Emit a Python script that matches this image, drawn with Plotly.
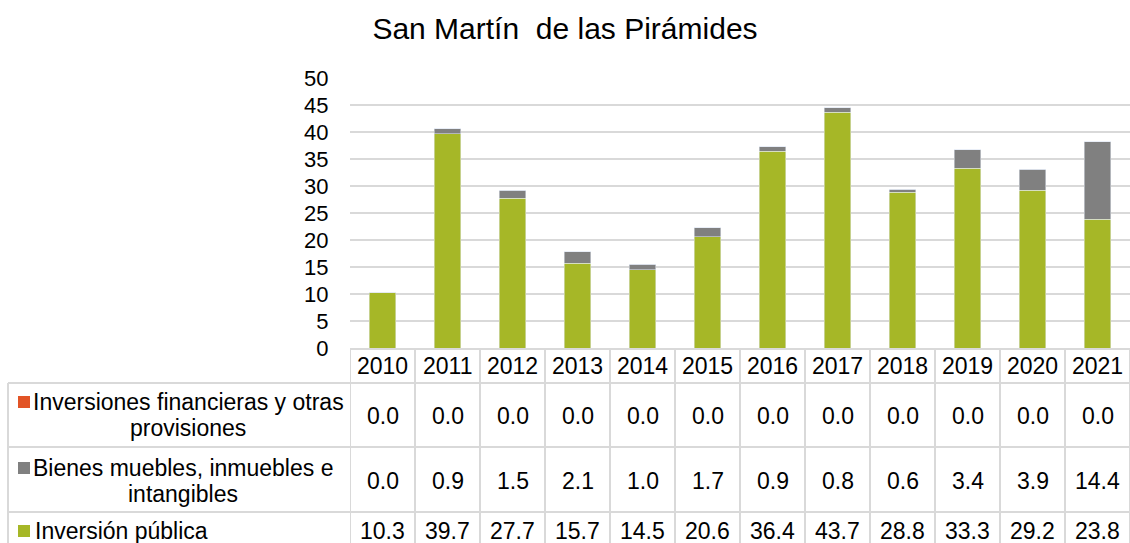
import plotly.graph_objects as go

years = ["2010", "2011", "2012", "2013", "2014", "2015", "2016", "2017", "2018", "2019", "2020", "2021"]
inv_financieras = [0.0, 0.0, 0.0, 0.0, 0.0, 0.0, 0.0, 0.0, 0.0, 0.0, 0.0, 0.0]
bienes_muebles = [0.0, 0.9, 1.5, 2.1, 1.0, 1.7, 0.9, 0.8, 0.6, 3.4, 3.9, 14.4]
inversion_publica = [10.3, 39.7, 27.7, 15.7, 14.5, 20.6, 36.4, 43.7, 28.8, 33.3, 29.2, 23.8]
y_ticks = [0, 5, 10, 15, 20, 25, 30, 35, 40, 45, 50]

GREEN = "#A6B727"
GREY = "#808080"
ORANGE = "#E25426"
LINE = "#D9D9D9"
FONT = "Liberation Sans, Arial, sans-serif"
TFS = 23

W, H = 1130, 543
L, R, T, B = 350, 0, 78, 195
PW = W - L - R
PH = H - T - B


def py(p):
    return (H - B - p) / PH


def px(p):
    return (p - L) / PW


fig = go.Figure()
fig.add_bar(x=years, y=inversion_publica, marker_color=GREEN, name="Inversión pública")
fig.add_bar(x=years, y=bienes_muebles, marker_color=GREY, name="Bienes muebles, inmuebles e intangibles")
fig.add_bar(x=years, y=inv_financieras, marker_color=ORANGE, name="Inversiones financieras y otras provisiones")

shapes = []
ann = []

# table horizontal lines
for yp in [383, 447, 512]:
    shapes.append(dict(type="line", xref="paper", yref="paper", x0=px(8), x1=1.0,
                       y0=py(yp), y1=py(yp), line=dict(color=LINE, width=2)))
# left border of legend column
shapes.append(dict(type="line", xref="paper", yref="paper", x0=px(8), x1=px(8),
                   y0=py(383), y1=py(560), line=dict(color=LINE, width=2)))
# column separators
for k in range(len(years) + 1):
    shapes.append(dict(type="line", xref="x", yref="paper", x0=k - 0.5, x1=k - 0.5,
                       y0=py(348), y1=py(560), line=dict(color=LINE, width=2)))

rows = [(inv_financieras, 416), (bienes_muebles, 481), (inversion_publica, 531)]
for i, yr in enumerate(years):
    ann.append(dict(x=i, xref="x", y=py(366), yref="paper", text=yr, showarrow=False,
                    font=dict(size=TFS, color="#000000", family=FONT), yanchor="middle"))
    for vals, yp in rows:
        ann.append(dict(x=i, xref="x", y=py(yp), yref="paper", text=f"{vals[i]:.1f}",
                        showarrow=False, font=dict(size=TFS, color="#000000", family=FONT),
                        yanchor="middle"))

legend_lines = [
    ("Inversiones financieras y otras", 188, 402, "center"),
    ("provisiones", 188, 428, "center"),
    ("Bienes muebles, inmuebles e", 183, 468, "center"),
    ("intangibles", 183, 494, "center"),
    ("Inversión pública", 33, 531, "left"),
]
for txt, xp, yp, al in legend_lines:
    ann.append(dict(x=px(xp), xref="paper", y=py(yp), yref="paper", text=txt, showarrow=False,
                    xanchor=al, yanchor="middle",
                    font=dict(size=TFS, color="#000000", family=FONT)))

for col, yp in [(ORANGE, 402), (GREY, 468), (GREEN, 531)]:
    shapes.append(dict(type="rect", xref="paper", yref="paper", x0=px(18), x1=px(30),
                       y0=py(yp + 6), y1=py(yp - 6), line=dict(width=0), fillcolor=col))

fig.update_layout(
    width=W, height=H,
    margin=dict(l=L, r=R, t=T, b=B),
    barmode="stack",
    bargap=0.585,
    showlegend=False,
    plot_bgcolor="white",
    paper_bgcolor="white",
    title=dict(text="San Martín\u00a0 de las Pirámides", x=0.5, xanchor="center",
               y=1 - 28 / H, yanchor="middle",
               font=dict(size=30, color="#000000", family=FONT)),
    xaxis=dict(type="category", showticklabels=False, showgrid=False, showline=True,
               linecolor=LINE, linewidth=2, ticks="", range=[-0.5, len(years) - 0.5]),
    yaxis=dict(range=[0, 50], tickvals=y_ticks, showgrid=True, gridcolor=LINE, gridwidth=2,
               zeroline=False, showline=False, ticks="outside", ticklen=16,
               tickcolor="rgba(0,0,0,0)",
               tickfont=dict(size=22, color="#000000", family=FONT)),
    shapes=shapes,
    annotations=ann,
)

fig.write_html("out.html", config={"displayModeBar": False},
               post_script="document.body.style.margin='0';document.body.style.overflow='hidden';")
